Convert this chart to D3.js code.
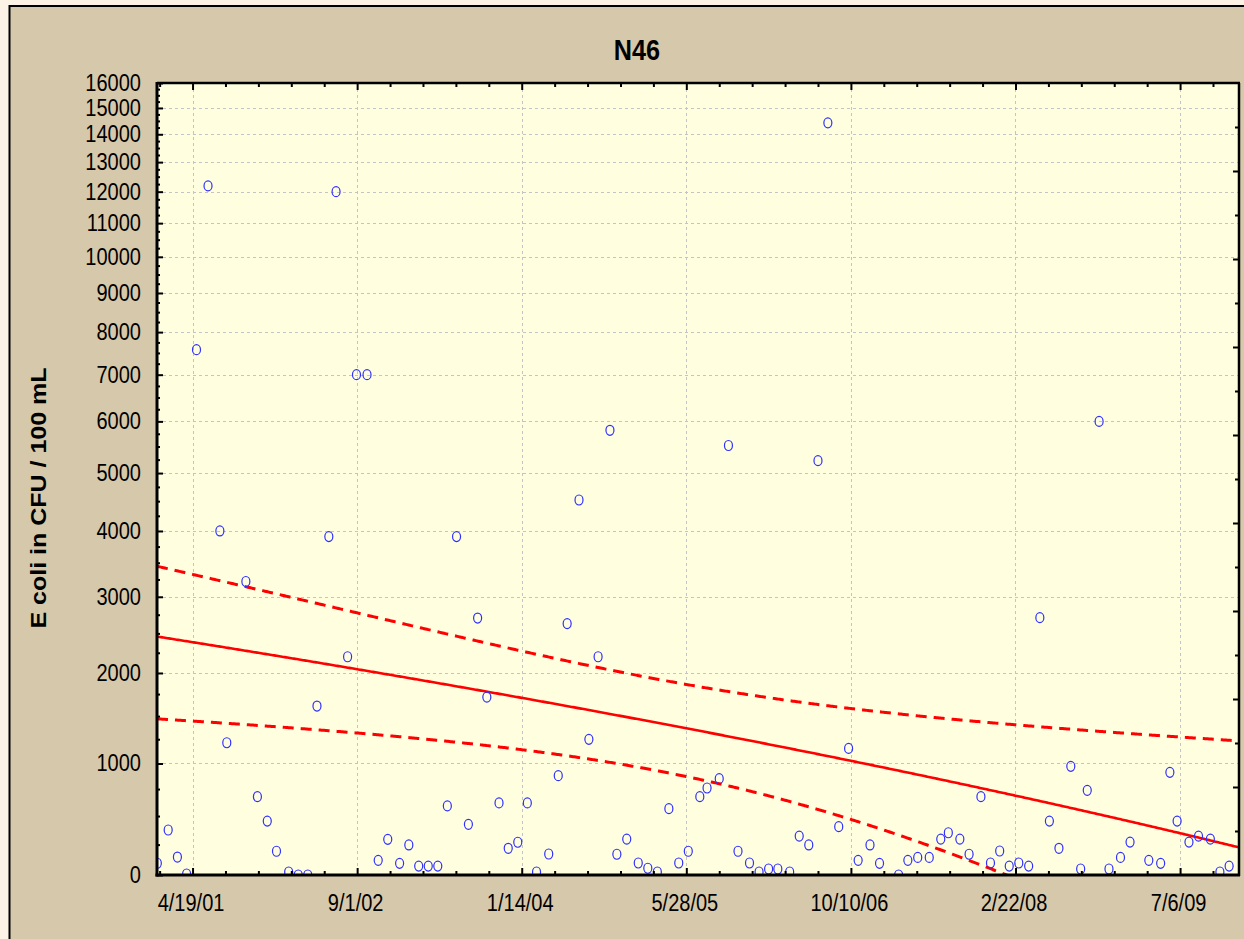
<!DOCTYPE html>
<html>
<head>
<meta charset="utf-8">
<script src="https://cdn.jsdelivr.net/npm/d3@7"></script>
<style>
  html, body { margin: 0; padding: 0; background: #fcf2e5; }
  svg { display: block; }
</style>
</head>
<body>
<svg id="chart" width="1244" height="939"></svg>
<script>
// ---- data -------------------------------------------------------------
const chartTitle = "N46";
const yAxisTitle = "E coli in CFU / 100 mL";

const sampleDates = [
  "2001-01-02","2001-02-04","2001-03-04","2001-04-01","2001-05-01","2001-06-05",
  "2001-07-11","2001-08-01","2001-09-28","2001-11-02","2001-12-02","2001-12-30",
  "2002-02-05","2002-03-06","2002-04-04","2002-05-02","2002-06-07","2002-06-29",
  "2002-08-03","2002-08-30","2002-10-01","2002-11-04","2002-12-03","2003-01-08",
  "2003-02-05","2003-03-07","2003-04-05","2003-05-04","2003-06-02","2003-06-30",
  "2003-08-05","2003-09-02","2003-09-30","2003-11-06","2003-12-04","2004-01-02",
  "2004-01-31","2004-02-28","2004-04-05","2004-05-04","2004-05-31","2004-07-06",
  "2004-08-05","2004-09-02","2004-10-08","2004-10-29","2004-11-28","2005-01-02",
  "2005-01-31","2005-03-01","2005-04-05","2005-05-05","2005-06-03","2005-07-08",
  "2005-07-30","2005-09-05","2005-10-03","2005-11-01","2005-12-06","2006-01-04",
  "2006-02-02","2006-03-02","2006-04-07","2006-05-06","2006-06-04","2006-07-02",
  "2006-08-01","2006-09-03","2006-10-03","2006-11-01","2006-12-07","2007-01-05",
  "2007-03-04","2007-04-01","2007-05-01","2007-06-05","2007-07-10","2007-08-02",
  "2007-09-06","2007-10-04","2007-11-09","2007-12-08","2008-01-05","2008-02-03",
  "2008-03-03","2008-04-02","2008-05-06","2008-06-04","2008-07-03","2008-08-08",
  "2008-09-07","2008-09-27","2008-11-02","2008-12-02","2009-01-06","2009-02-04",
  "2009-04-02","2009-05-08","2009-06-05","2009-06-27","2009-08-02","2009-08-31",
  "2009-10-06","2009-11-04","2009-12-02"
];

const ecoli = [
  95, 376, 146, 8, 7577, 12190,
  4000, 1213, 3220, 678, 455, 194,
  24, 0, 0, 1613, 3910, 12000,
  2200, 7000, 7000, 119, 295, 94,
  247, 72, 72, 72, 592, 3910,
  426, 2705, 1715, 620, 219, 270,
  620, 24, 171, 879, 2630, 4520,
  1249, 2200, 5820, 169, 297, 97,
  54, 24, 567, 97, 194, 678,
  760, 850, 5520, 194, 97, 24,
  48, 48, 24, 323, 247, 5230,
  14430, 405, 1154, 119, 247, 94,
  0, 119, 143, 143, 297, 352,
  297, 169, 678, 97, 196, 72,
  97, 72, 2710, 455, 219, 972,
  48, 738, 6000, 48, 143, 272,
  119, 94, 912, 455, 272, 323,
  297, 24, 72
];

const dateTicks = ["2001-04-19","2002-09-01","2004-01-14","2005-05-28",
                   "2006-10-10","2008-02-22","2009-07-06"];
const yTicks = [0,1000,2000,3000,4000,5000,6000,7000,8000,
                9000,10000,11000,12000,13000,14000,15000,16000];
const xDomain = ["2001-01-01","2010-01-01"];
const yDomain = [0, 16000];

// ---- layout -----------------------------------------------------------
const W = 1244, H = 939;
const plot = { left: 157, right: 1239, top: 83, bottom: 875 };
const squeeze = 0.87;          // narrow glyph proportions used throughout
const fontFam = "'Liberation Sans', Arial, Helvetica, sans-serif";

const parse = d3.utcParse("%Y-%m-%d");
const fmt = d3.utcFormat("%-m/%-d/%y");

const x = d3.scaleUtc()
  .domain(xDomain.map(parse))
  .range([plot.left, plot.right]);

// compressed scale: logarithmic for large counts, nearly linear near zero
const y = d3.scaleSymlog()
  .constant(3850)
  .domain(yDomain)
  .range([plot.bottom, plot.top]);

const svg = d3.select("#chart");

// outer panel
svg.append("rect")
  .attr("x", 9.5).attr("y", 6)
  .attr("width", W + 10).attr("height", H + 10)
  .attr("fill", "#d6c8aa")
  .attr("stroke", "#000").attr("stroke-width", 2);

// plot background
svg.append("rect")
  .attr("x", plot.left).attr("y", plot.top)
  .attr("width", plot.right - plot.left).attr("height", plot.bottom - plot.top)
  .attr("fill", "#ffffe0");

svg.append("clipPath").attr("id", "plotClip")
  .append("rect")
  .attr("x", plot.left).attr("y", plot.top)
  .attr("width", plot.right - plot.left).attr("height", plot.bottom - plot.top);

// ---- grid -------------------------------------------------------------
const grid = svg.append("g")
  .attr("stroke", "#c4c4c4").attr("stroke-width", 1)
  .attr("stroke-dasharray", "3,3").attr("fill", "none");

grid.selectAll("line.h")
  .data(yTicks.filter(v => v > yDomain[0] && v < yDomain[1]))
  .join("line").attr("class", "h")
  .attr("x1", plot.left).attr("x2", plot.right)
  .attr("y1", d => Math.round(y(d)) + 0.5).attr("y2", d => Math.round(y(d)) + 0.5);

grid.selectAll("line.v")
  .data(dateTicks.map(parse))
  .join("line").attr("class", "v")
  .attr("y1", plot.top).attr("y2", plot.bottom)
  .attr("x1", d => Math.round(x(d)) + 0.5).attr("x2", d => Math.round(x(d)) + 0.5);

// ---- linear trend with 95% confidence band ----------------------------
const t0 = x.domain()[0];
const dayOf = d => (d - t0) / 864e5;
const pts = sampleDates.map((s, i) => ({ date: parse(s), v: ecoli[i] }));
const xs = pts.map(p => dayOf(p.date));
const ys = pts.map(p => p.v);
const n = pts.length;
const mx = d3.mean(xs), my = d3.mean(ys);
let sxx = 0, sxy = 0;
for (let i = 0; i < n; i++) {
  sxx += (xs[i] - mx) ** 2;
  sxy += (xs[i] - mx) * (ys[i] - my);
}
const slope = sxy / sxx;
const intercept = my - slope * mx;
let sse = 0;
for (let i = 0; i < n; i++) sse += (ys[i] - (intercept + slope * xs[i])) ** 2;
const sRes = Math.sqrt(sse / (n - 2));
const tCrit = 1.983;   // two-sided 95% Student t, ~100 degrees of freedom

const span = dayOf(x.domain()[1]);
const fitPts = d3.range(0, span + 1, 4).map(dd => {
  const fit = intercept + slope * dd;
  const half = tCrit * sRes * Math.sqrt(1 / n + (dd - mx) ** 2 / sxx);
  return { date: new Date(+t0 + dd * 864e5), fit, lo: fit - half, hi: fit + half };
});

const fitLayer = svg.append("g").attr("clip-path", "url(#plotClip)")
  .attr("fill", "none").attr("stroke", "#ff0000");

fitLayer.append("path")
  .datum(fitPts)
  .attr("stroke-width", 2.6)
  .attr("d", d3.line().x(d => x(d.date)).y(d => y(d.fit)));

["hi", "lo"].forEach(k => {
  fitLayer.append("path")
    .datum(fitPts)
    .attr("stroke-width", 3)
    .attr("stroke-dasharray", "11,7")
    .attr("d", d3.line().x(d => x(d.date)).y(d => y(d[k])));
});

// ---- sample points ----------------------------------------------------
svg.append("g").attr("clip-path", "url(#plotClip)")
  .selectAll("ellipse")
  .data(pts)
  .join("ellipse")
  .attr("cx", d => x(d.date))
  .attr("cy", d => y(d.v))
  .attr("rx", 4).attr("ry", 5)
  .attr("fill", "none")
  .attr("stroke", "#2f2fff")
  .attr("stroke-width", 1.2);

// ---- axes -------------------------------------------------------------
function styleAxis(g) {
  g.select(".domain").remove();
  g.selectAll(".tick line").attr("stroke", "#000").attr("stroke-width", 2);
}

// left: labelled major ticks
const yAxisG = svg.append("g")
  .attr("transform", `translate(${plot.left},0)`)
  .call(d3.axisLeft(y).tickValues(yTicks).tickFormat(d3.format("d"))
    .tickSizeInner(-6).tickSizeOuter(0).tickPadding(18.5))
  .call(styleAxis);
yAxisG.selectAll(".tick text")
  .attr("transform", `scale(${squeeze},1)`)
  .attr("font-family", fontFam).attr("font-size", 23).attr("fill", "#000");

// left: minor ticks
svg.append("g")
  .attr("transform", `translate(${plot.left},0)`)
  .call(d3.axisLeft(y).tickValues(d3.range(0, 16001, 250).filter(v => v % 1000))
    .tickSizeInner(-3).tickSizeOuter(0).tickFormat(""))
  .call(styleAxis);

// bottom: labelled date ticks
const xAxisG = svg.append("g")
  .attr("transform", `translate(0,${plot.bottom})`)
  .call(d3.axisBottom(x).tickValues(dateTicks.map(parse)).tickFormat(fmt)
    .tickSizeInner(-7).tickSizeOuter(0).tickPadding(19.5))
  .call(styleAxis);
xAxisG.selectAll(".tick text")
  .attr("transform", `translate(-2,0) scale(${squeeze},1)`)
  .attr("font-family", fontFam).attr("font-size", 23).attr("fill", "#000");

// minor date ticks every 100 days from the first labelled date
const firstTick = parse(dateTicks[0]);
const minorDates = d3.range(-10, 40)
  .map(k => new Date(+firstTick + k * 100 * 864e5))
  .filter(d => d > x.domain()[0] && d < x.domain()[1]);
const minorDatesOnly = minorDates.filter((d, i) =>
  Math.round(dayOf(d) - dayOf(firstTick)) % 500 !== 0);

svg.append("g")
  .attr("transform", `translate(0,${plot.bottom})`)
  .call(d3.axisBottom(x).tickValues(minorDatesOnly).tickSizeInner(-4)
    .tickSizeOuter(0).tickFormat(""))
  .call(styleAxis);

// top: mirrored date ticks
svg.append("g")
  .attr("transform", `translate(0,${plot.top})`)
  .call(d3.axisTop(x).tickValues(dateTicks.map(parse)).tickSizeInner(-7)
    .tickSizeOuter(0).tickFormat(""))
  .call(styleAxis);
svg.append("g")
  .attr("transform", `translate(0,${plot.top})`)
  .call(d3.axisTop(x).tickValues(minorDatesOnly).tickSizeInner(-4)
    .tickSizeOuter(0).tickFormat(""))
  .call(styleAxis);

// right: evenly divided frame ticks
const rightScale = d3.scaleLinear().domain([0, 18]).range([plot.bottom, plot.top]);
svg.append("g")
  .attr("transform", `translate(${plot.right},0)`)
  .call(d3.axisRight(rightScale).tickValues(d3.range(1, 18))
    .tickSizeOuter(0).tickFormat(""))
  .call(g => {
    g.select(".domain").remove();
    g.selectAll(".tick line")
      .attr("stroke", "#000").attr("stroke-width", 2)
      .attr("x2", d => d % 2 === 0 ? -6 : -4);
  });

// frame
const frame = svg.append("g").attr("stroke", "#000").attr("fill", "none");
frame.append("line").attr("x1", plot.left).attr("x2", plot.right + 1)
  .attr("y1", plot.top).attr("y2", plot.top).attr("stroke-width", 2.5);
frame.append("line").attr("x1", plot.right).attr("x2", plot.right)
  .attr("y1", plot.top).attr("y2", plot.bottom + 1).attr("stroke-width", 2.5);
frame.append("line").attr("x1", plot.left - 1.5).attr("x2", plot.right + 1)
  .attr("y1", plot.bottom).attr("y2", plot.bottom).attr("stroke-width", 3);
frame.append("line").attr("x1", plot.left).attr("x2", plot.left)
  .attr("y1", plot.top - 1).attr("y2", plot.bottom + 1.5).attr("stroke-width", 3);

// ---- titles -----------------------------------------------------------
svg.append("text")
  .attr("transform", `translate(637,60) scale(${squeeze},1)`)
  .attr("text-anchor", "middle")
  .attr("font-family", fontFam).attr("font-weight", "bold").attr("font-size", 29)
  .text(chartTitle);

svg.append("text")
  .attr("transform", `translate(46,498) scale(${squeeze},1) rotate(-90)`)
  .attr("text-anchor", "middle")
  .attr("font-family", fontFam).attr("font-weight", "bold").attr("font-size", 25)
  .text(yAxisTitle);
</script>
</body>
</html>
